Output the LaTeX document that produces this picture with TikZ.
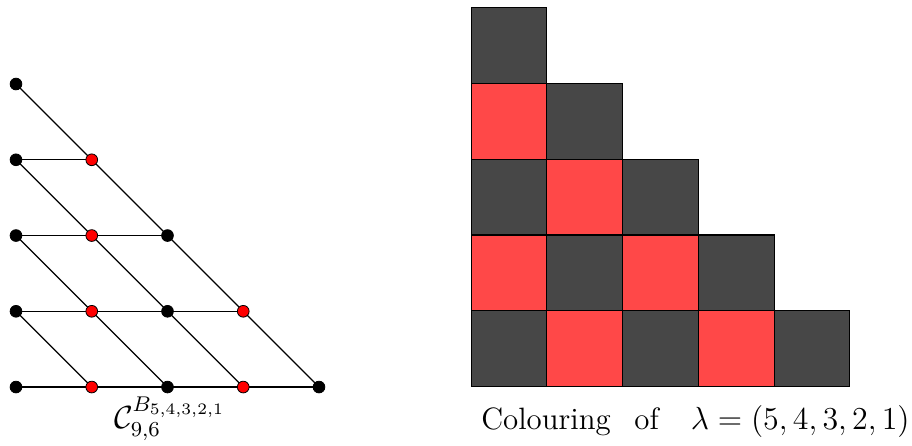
\documentclass[tikz,border=0pt]{standalone}
\usepackage{amsmath}
\definecolor{darkcell}{RGB}{71,71,71}
\definecolor{redcell}{RGB}{255,72,72}
\begin{document}
\begin{tikzpicture}[
  edge/.style={draw=black, line width=0.45pt},
  bdot/.style={circle, fill=black, draw=black, line width=0.3pt, inner sep=0pt, minimum size=1.55mm},
  rdot/.style={circle, fill=red, draw=black, line width=0.3pt, inner sep=0pt, minimum size=1.55mm},
  cellbox/.style={draw=black, line width=0.45pt, minimum size=1cm, inner sep=0pt, anchor=south west},
  darkc/.style={cellbox, fill=darkcell},
  redc/.style={cellbox, fill=redcell},
  lab/.style={font=\fontsize{11.6}{14}\selectfont, inner sep=0pt}
]
\useasboundingbox (-0.211,-0.766) rectangle (11.828,5.109);
% vertex positions
\foreach \r in {0,...,4}{
  \pgfmathtruncatemacro{\n}{4-\r}
  \foreach \c in {0,...,\n}{
    \coordinate (p\c-\r) at (\c,\r);
  }
}
% horizontal edges
\draw[edge] (p0-3) -- (p1-3);
\draw[edge] (p0-2) -- (p2-2);
\draw[edge] (p0-1) -- (p3-1);
\draw[edge] (p0-0) -- (p4-0);
% diagonal edges
\draw[edge] (p0-4) -- (p4-0);
\draw[edge] (p0-3) -- (p3-0);
\draw[edge] (p0-2) -- (p2-0);
\draw[edge] (p0-1) -- (p1-0);
% dots
\foreach \r in {0,...,4}{
  \pgfmathtruncatemacro{\n}{4-\r}
  \foreach \c in {0,...,\n}{
    \pgfmathtruncatemacro{\odd}{mod(\c,2)}
    \ifnum\odd=1
      \node[rdot] (v\c-\r) at (p\c-\r) {};
    \else
      \node[bdot] (v\c-\r) at (p\c-\r) {};
    \fi
  }
}
\node[lab, anchor=north] (clab) at (2.03,-0.12) {$\mathcal{C}_{9,6}^{B_{5,4,3,2,1}}$};
% Young diagram
\foreach \r in {1,...,5}{
  \foreach \c in {1,...,\r}{
    \pgfmathtruncatemacro{\prty}{mod(\r-\c,2)}
    \pgfmathsetmacro{\xx}{5+\c}
    \pgfmathsetmacro{\yy}{5-\r}
    \ifnum\prty=0
      \node[darkc] (s\c-\r) at (\xx,\yy) {};
    \else
      \node[redc] (s\c-\r) at (\xx,\yy) {};
    \fi
  }
}
\node[lab] (ylab) at (8.97,-0.45) {Colouring\hspace{8.9pt}of\hspace{12pt}$\lambda = (5,4,3,2,1)$};
\end{tikzpicture}
\end{document}
